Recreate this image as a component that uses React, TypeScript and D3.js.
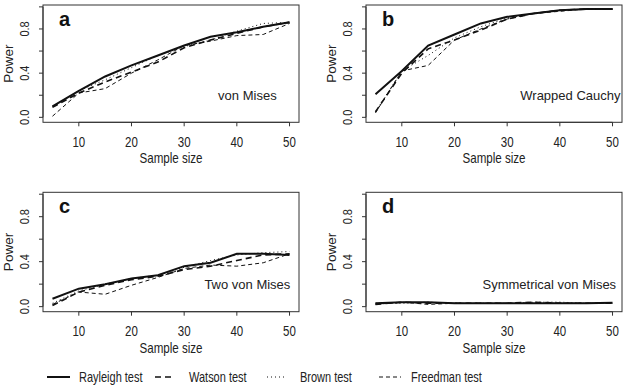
import React from 'react';
import * as d3 from 'd3';

const sampleSizes = [5, 10, 15, 20, 25, 30, 35, 40, 45, 50];
const testNames = ['Rayleigh test', 'Watson test', 'Brown test', 'Freedman test'];
const xTicks = [10, 20, 30, 40, 50];
const yTicks = [0, 0.2, 0.4, 0.6, 0.8, 1.0];
const yTickLabels = ['0.0', '', '0.4', '', '0.8', ''];

// a: von Mises
const rayleighA = [0.10, 0.24, 0.37, 0.47, 0.56, 0.65, 0.73, 0.77, 0.82, 0.86];
const watsonA = [0.09, 0.22, 0.32, 0.41, 0.50, 0.63, 0.70, 0.76, 0.82, 0.86];
const brownA = [0.10, 0.24, 0.34, 0.45, 0.56, 0.64, 0.70, 0.78, 0.85, 0.86];
const freedmanA = [0.01, 0.22, 0.26, 0.40, 0.52, 0.65, 0.69, 0.74, 0.75, 0.85];

// b: wrapped Cauchy
const rayleighB = [0.21, 0.42, 0.65, 0.75, 0.85, 0.91, 0.94, 0.97, 0.98, 0.98];
const watsonB = [0.05, 0.40, 0.62, 0.70, 0.79, 0.89, 0.94, 0.97, 0.98, 0.98];
const brownB = [0.05, 0.42, 0.56, 0.72, 0.82, 0.90, 0.94, 0.97, 0.98, 0.98];
const freedmanB = [0.04, 0.42, 0.47, 0.70, 0.80, 0.89, 0.94, 0.96, 0.98, 0.98];

// c: two von Mises
const rayleighC = [0.07, 0.16, 0.20, 0.25, 0.28, 0.36, 0.39, 0.47, 0.47, 0.46];
const watsonC = [0.01, 0.13, 0.19, 0.24, 0.27, 0.33, 0.36, 0.41, 0.46, 0.47];
const brownC = [0.03, 0.14, 0.20, 0.25, 0.28, 0.35, 0.41, 0.46, 0.48, 0.49];
const freedmanC = [0.02, 0.13, 0.11, 0.19, 0.26, 0.34, 0.37, 0.36, 0.39, 0.47];

// d: symmetrical von Mises
const rayleighD = [0.03, 0.04, 0.04, 0.03, 0.03, 0.03, 0.03, 0.03, 0.03, 0.035];
const watsonD = [0.02, 0.04, 0.03, 0.03, 0.03, 0.03, 0.04, 0.03, 0.03, 0.03];
const brownD = [0.03, 0.03, 0.04, 0.03, 0.03, 0.03, 0.04, 0.04, 0.03, 0.03];
const freedmanD = [0.02, 0.04, 0.02, 0.03, 0.03, 0.03, 0.03, 0.03, 0.03, 0.03];

const panelLetters = ['a', 'b', 'c', 'd'];
const panelNotes = ['von Mises', 'Wrapped Cauchy', 'Two von Mises', 'Symmetrical von Mises'];
const noteX = [42, 42, 42, 38];

const series = [
  [rayleighA, watsonA, brownA, freedmanA],
  [rayleighB, watsonB, brownB, freedmanB],
  [rayleighC, watsonC, brownC, freedmanC],
  [rayleighD, watsonD, brownD, freedmanD],
];

// line look per test: solid, thick dashed, dotted, thin dashed
const strokes = [
  { w: 2, dash: 'none' },
  { w: 1.6, dash: '6 4' },
  { w: 1, dash: '1 3' },
  { w: 1, dash: '4 3' },
];

const font = '"Liberation Sans", Arial, Helvetica, sans-serif';
const ink = '#222';

const cols = [43, 366];
const colW = 256;
const rows = [
  { top: 5, bottom: 122.3 },
  { top: 192.3, bottom: 311.7 },
];

// text a little taller than wide, like the device output
const tall = (x: number, y: number, s = 1.2) => `translate(${x},${y}) scale(1,${s})`;

function Panel({ idx }: { idx: number }) {
  const left = cols[idx % 2];
  const right = left + colW;
  const { top, bottom } = rows[Math.floor(idx / 2)];

  const x = d3.scaleLinear().domain([3.2, 51.8]).range([left, right]);
  const y = d3.scaleLinear().domain([-0.045, 1.017]).range([bottom, top]);
  const line = d3
    .line<number>()
    .x((_, i) => x(sampleSizes[i]))
    .y((d) => y(d));

  return (
    <g>
      <rect x={left} y={top} width={right - left} height={bottom - top} fill="none" stroke="#333" strokeWidth={1} />
      {/* x axis */}
      <line x1={x(xTicks[0])} x2={x(xTicks[xTicks.length - 1])} y1={bottom} y2={bottom} stroke="#333" />
      {xTicks.map((t) => (
        <g key={t}>
          <line x1={x(t)} x2={x(t)} y1={bottom} y2={bottom + 4} stroke="#333" />
          <text transform={tall(x(t), bottom + 24.4)} textAnchor="middle" fontSize={11.5} fill={ink}>
            {t}
          </text>
        </g>
      ))}
      <text transform={tall((left + right) / 2, bottom + 41)} textAnchor="middle" fontSize={11.6} fill={ink}>
        Sample size
      </text>
      {/* y axis */}
      <line x1={left} x2={left} y1={y(0)} y2={y(1)} stroke="#333" />
      {yTicks.map((t, i) => (
        <g key={t}>
          <line x1={left - 4} x2={left} y1={y(t)} y2={y(t)} stroke="#333" />
          {yTickLabels[i] && (
            <text
              transform={`translate(${left - 14},${y(t)}) rotate(-90) scale(1,1.1)`}
              textAnchor="middle"
              fontSize={11}
              fill={ink}
            >
              {yTickLabels[i]}
            </text>
          )}
        </g>
      ))}
      <text
        transform={`translate(${left - 30.5},${(top + bottom) / 2}) rotate(-90)`}
        textAnchor="middle"
        fontSize={13.5}
        fill={ink}
      >
        Power
      </text>
      {/* curves */}
      {series[idx].map((vals, k) => (
        <path
          key={k}
          d={line(vals) || ''}
          fill="none"
          stroke="#111"
          strokeWidth={strokes[k].w}
          strokeDasharray={strokes[k].dash}
        />
      ))}
      <text x={left + 16} y={top + 20.5} fontSize={20} fontWeight="bold" fill="#111">
        {panelLetters[idx]}
      </text>
      <text x={x(noteX[idx])} y={y(0.2) + 4.6} textAnchor="middle" fontSize={13} fill={ink}>
        {panelNotes[idx]}
      </text>
    </g>
  );
}

function Legend() {
  const segX = [47, 155, 267, 379];
  const segLen = [23, 20, 18, 22];
  const labelX = [79, 189, 300, 411];
  const yc = 377;
  return (
    <g>
      {testNames.map((name, k) => (
        <g key={name}>
          <line
            x1={segX[k]}
            x2={segX[k] + segLen[k]}
            y1={yc}
            y2={yc}
            stroke="#111"
            strokeWidth={strokes[k].w}
            strokeDasharray={strokes[k].dash}
          />
          <text transform={tall(labelX[k], yc + 5, 1.25)} fontSize={11} fill={ink}>
            {name}
          </text>
        </g>
      ))}
    </g>
  );
}

export default function App() {
  return (
    <svg
      width={629}
      height={386}
      style={{ position: 'absolute', left: 0, top: 0, background: '#fff', fontFamily: font }}
    >
      {[0, 1, 2, 3].map((i) => (
        <Panel key={i} idx={i} />
      ))}
      <Legend />
    </svg>
  );
}
